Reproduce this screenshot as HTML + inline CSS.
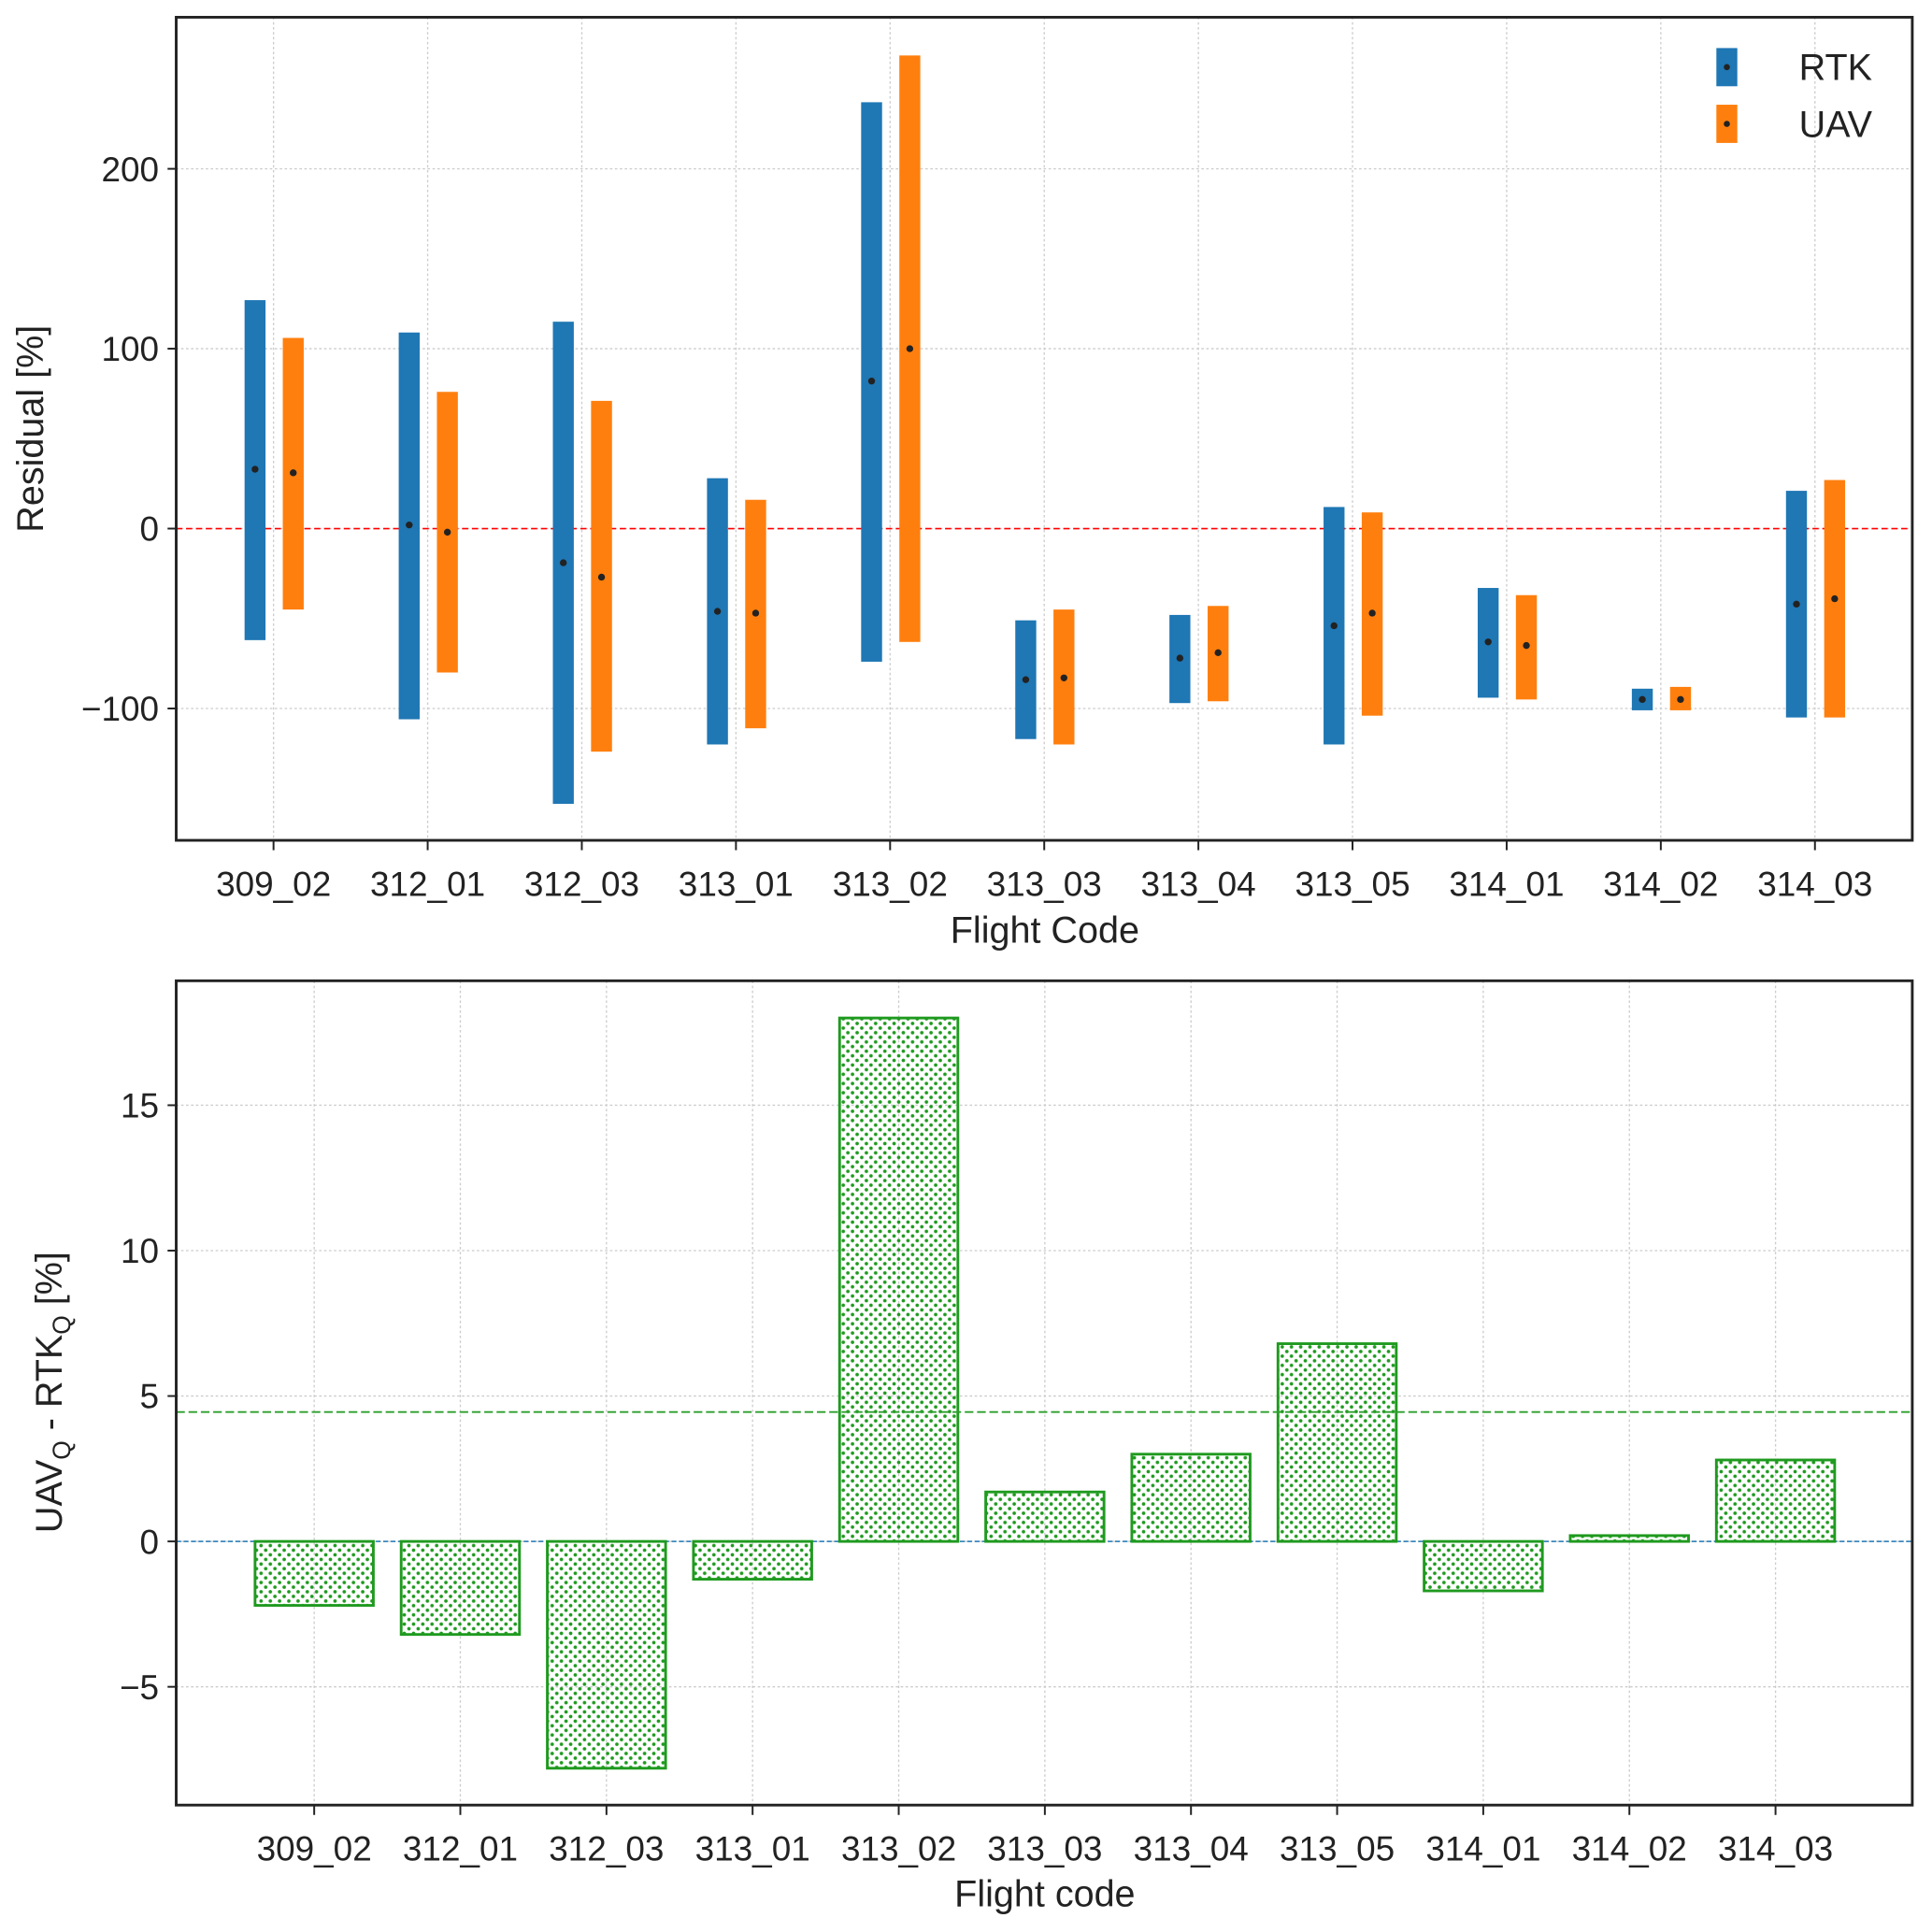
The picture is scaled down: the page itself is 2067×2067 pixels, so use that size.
<!DOCTYPE html>
<html><head><meta charset="utf-8"><style>
html,body{margin:0;padding:0;background:#fff}
svg{display:block;font-family:"Liberation Sans",Arial,sans-serif}
</style></head><body>
<svg id="fig" width="2067" height="2067" viewBox="0 0 1568 1568" xmlns="http://www.w3.org/2000/svg">
<defs>
<pattern id="dots" patternUnits="userSpaceOnUse" width="7.5" height="7.5">
<circle cx="1.9" cy="1.9" r="1.4" fill="#1f9a1f"/><circle cx="5.65" cy="5.65" r="1.4" fill="#1f9a1f"/>
</pattern>
</defs>
<g id="topChart"></g>
<g id="botChart"></g>
</svg>
<script>
const categories=["309_02","312_01","312_03","313_01","313_02","313_03","313_04","313_05","314_01","314_02","314_03"];
const rtkHigh=[127,109,115,28,237,-51,-48,12,-33,-89,21];
const rtkLow=[-62,-106,-153,-120,-74,-117,-97,-120,-94,-101,-105];
const rtkMed=[33,2,-19,-46,82,-84,-72,-54,-63,-95,-42];
const uavHigh=[106,76,71,16,263,-45,-43,9,-37,-88,27];
const uavLow=[-45,-80,-124,-111,-63,-120,-96,-104,-95,-101,-105];
const uavMed=[31,-2,-27,-47,100,-83,-69,-47,-65,-95,-39];
const topTicks=[-100,0,100,200];
const diffValues=[-2.2,-3.2,-7.8,-1.3,18.0,1.7,3.0,6.8,-1.7,0.2,2.8];
const diffMean=4.45;
const botTicks=[-5,0,5,10,15];

const NS="http://www.w3.org/2000/svg";
function mk(parent,tag,attrs,text){const e=document.createElementNS(NS,tag);for(const k in attrs)e.setAttribute(k,attrs[k]);if(text!==undefined)e.textContent=text;parent.appendChild(e);return e;}
const TF=28, AF=30;

// ---- top chart ----
const T={l:143,r:1552,t:14,b:682};
const tx=i=>222+i*125.1;
const ty=v=>429-v*1.46;
const topG=document.getElementById('topChart');
topTicks.forEach(v=>{
  const g=mk(topG,'line',{x1:T.l,x2:T.r,y1:ty(v),y2:ty(v),stroke:'#ccc','stroke-width':1,'stroke-dasharray':'2,2'});
  
  
  const tk=mk(topG,'line',{x1:T.l-7,x2:T.l,y1:ty(v),y2:ty(v),stroke:'#222','stroke-width':1.5});
  
  
  const lb=mk(topG,'text',{x:T.l-14,y:ty(v)+10,'text-anchor':'end','font-size':TF,fill:'#222'},v<0?'\u2212'+(-v):String(v));
  
  
});
categories.forEach((c,i)=>{
  const g=mk(topG,'line',{x1:tx(i),x2:tx(i),y1:T.t,y2:T.b,stroke:'#ccc','stroke-width':1,'stroke-dasharray':'2,2'});
  
  
  const tk=mk(topG,'line',{x1:tx(i),x2:tx(i),y1:T.b,y2:T.b+8,stroke:'#222','stroke-width':1.5});
  
  
  const lb=mk(topG,'text',{x:tx(i),y:T.b+45,'text-anchor':'middle','font-size':TF,fill:'#222'},c);
  
  
});
const zl=mk(topG,'line',{x1:T.l,x2:T.r,y1:ty(0),y2:ty(0),stroke:'#ff0000','stroke-width':1.2,'stroke-dasharray':'5,3'});


categories.forEach((c,i)=>{
  [[rtkHigh,rtkLow,rtkMed,'#1f77b4',-15,'rtk'],[uavHigh,uavLow,uavMed,'#ff7f0e',16,'uav']].forEach(([H,L,M,col,off,nm])=>{
    const cx=tx(i)+off;
    const r=mk(topG,'rect',{x:cx-8.5,y:ty(H[i]),width:17,height:ty(L[i])-ty(H[i]),fill:col});
    
    
    const d=mk(topG,'circle',{cx:cx,cy:ty(M[i]),r:2.8,fill:'#222'});
    
    
  });
});
const fr=mk(topG,'rect',{x:T.l,y:T.t,width:T.r-T.l,height:T.b-T.t,fill:'none',stroke:'#222','stroke-width':2.2});


const yl=mk(topG,'text',{x:0,y:0,transform:'translate(35,348) rotate(-90)','text-anchor':'middle','font-size':AF,fill:'#222'},'Residual [%]');


const xl=mk(topG,'text',{x:848,y:765,'text-anchor':'middle','font-size':AF,fill:'#222'},'Flight Code');


[['RTK','#1f77b4',39],['UAV','#ff7f0e',85]].forEach(([t,col,y])=>{
  const p=mk(topG,'rect',{x:1393,y:y,width:17,height:31,fill:col});
  
  
  const pd=mk(topG,'circle',{cx:1401.5,cy:y+15.5,r:2.5,fill:'#222'});
  
  
  const lt=mk(topG,'text',{x:1460,y:y+26,'font-size':AF,fill:'#222'},t);
  
  
});

// ---- bottom chart ----
const B={l:143,r:1552,t:796,b:1465};
const bx=i=>255+i*118.6;
const by=v=>1251-v*23.6;
const botG=document.getElementById('botChart');
botTicks.forEach(v=>{
  const g=mk(botG,'line',{x1:B.l,x2:B.r,y1:by(v),y2:by(v),stroke:'#ccc','stroke-width':1,'stroke-dasharray':'2,2'});
  
  
  const tk=mk(botG,'line',{x1:B.l-7,x2:B.l,y1:by(v),y2:by(v),stroke:'#222','stroke-width':1.5});
  
  
  const lb=mk(botG,'text',{x:B.l-14,y:by(v)+10,'text-anchor':'end','font-size':TF,fill:'#222'},v<0?'\u2212'+(-v):String(v));
  
  
});
categories.forEach((c,i)=>{
  const g=mk(botG,'line',{x1:bx(i),x2:bx(i),y1:B.t,y2:B.b,stroke:'#ccc','stroke-width':1,'stroke-dasharray':'2,2'});
  
  
  const tk=mk(botG,'line',{x1:bx(i),x2:bx(i),y1:B.b,y2:B.b+8,stroke:'#222','stroke-width':1.5});
  
  
  const lb=mk(botG,'text',{x:bx(i),y:B.b+45,'text-anchor':'middle','font-size':TF,fill:'#222'},c);
  
  
});
const z2=mk(botG,'line',{x1:B.l,x2:B.r,y1:by(0),y2:by(0),stroke:'#1f77b4','stroke-width':1.2,'stroke-dasharray':'4,2'});


diffValues.forEach((v,i)=>{
  const y0=Math.min(by(0),by(v)),h=Math.abs(by(v)-by(0));
  const r=mk(botG,'rect',{x:bx(i)-48,y:y0,width:96,height:h,fill:'url(#dots)',stroke:'#1f9a1f','stroke-width':2.2});
  
  
});
const ml=mk(botG,'line',{x1:B.l,x2:B.r,y1:by(diffMean),y2:by(diffMean),stroke:'#2ca02c','stroke-width':1.4,'stroke-dasharray':'7,3'});


const f2=mk(botG,'rect',{x:B.l,y:B.t,width:B.r-B.l,height:B.b-B.t,fill:'none',stroke:'#222','stroke-width':2.2});


const yl2=mk(botG,'text',{x:0,y:0,transform:'translate(50,1130) rotate(-90)','text-anchor':'middle','font-size':AF,fill:'#222'});


[['UAV',0,AF],['Q',7,20],[' - RTK',-7,AF],['Q',7,20],[' [%]',-7,AF]].forEach(([s,dy,fs])=>{
  const sp=mk(yl2,'tspan',{dy:dy,'font-size':fs},s);
  
  
});
const xl2=mk(botG,'text',{x:848,y:1547,'text-anchor':'middle','font-size':AF,fill:'#222'},'Flight code');


</script>
</body></html>
